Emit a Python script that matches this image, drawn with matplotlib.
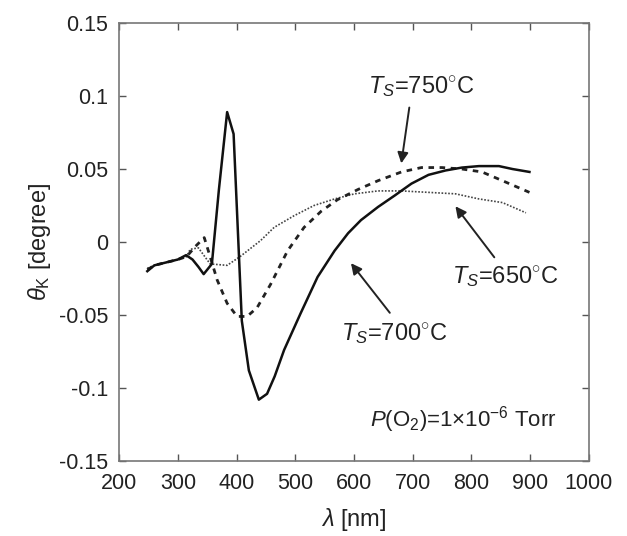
import matplotlib
matplotlib.use("Agg")
import matplotlib.pyplot as plt

plt.rcParams['font.family'] = ['Liberation Sans', 'DejaVu Sans']
plt.rcParams['mathtext.fontset'] = 'custom'
plt.rcParams['mathtext.rm'] = 'Liberation Sans'
plt.rcParams['mathtext.it'] = 'Liberation Sans:italic'

# 700 C (solid)
x700 = [248, 260, 280, 300, 314, 325, 335, 344, 358, 370, 384, 395, 409, 421, 438, 452, 465, 481,
        509, 538, 567, 590, 612, 641, 670, 698, 727, 756, 784, 813, 847, 870, 899]
y700 = [-0.020, -0.016, -0.014, -0.012, -0.009, -0.012, -0.017, -0.022, -0.015, 0.036, 0.089, 0.074,
        -0.054, -0.088, -0.108, -0.104, -0.092, -0.074, -0.049, -0.024, -0.006, 0.006, 0.015, 0.024,
        0.032, 0.040, 0.046, 0.049, 0.051, 0.052, 0.052, 0.050, 0.048]

# 750 C (dashed)
x750 = [248, 260, 280, 300, 315, 330, 345, 355, 367, 384, 401, 418, 435, 458, 487, 515, 544, 572,
        607, 641, 681, 715, 750, 784, 818, 853, 899]
y750 = [-0.019, -0.016, -0.014, -0.012, -0.010, -0.003, 0.003, -0.010, -0.026, -0.042, -0.051,
        -0.051, -0.045, -0.029, -0.006, 0.010, 0.021, 0.029, 0.036, 0.042, 0.048, 0.051, 0.051,
        0.050, 0.048, 0.042, 0.034]

# 650 C (dotted)
x650 = [248, 260, 280, 300, 315, 321, 335, 355, 384, 406, 441, 464, 498, 532, 567, 601, 641, 681,
        727, 773, 813, 853, 893]
y650 = [-0.018, -0.016, -0.014, -0.012, -0.010, -0.005, -0.004, -0.015, -0.016, -0.010, 0.001,
        0.010, 0.018, 0.025, 0.0295, 0.033, 0.035, 0.035, 0.034, 0.033, 0.0295, 0.027, 0.020]

xticks = [200, 300, 400, 500, 600, 700, 800, 900, 1000]
yticks = [-0.15, -0.1, -0.05, 0, 0.05, 0.1, 0.15]
ytick_labels = ['-0.15', '-0.1', '-0.05', '0', '0.05', '0.1', '0.15']

fig = plt.figure(figsize=(6.27, 5.36), dpi=100)
ax = fig.add_axes([0.190, 0.140, 0.749, 0.817])

ax.plot(x650, y650, color='#444444', lw=1.2, linestyle=(0, (1, 1)))
ax.plot(x750, y750, color='#222222', lw=2.0, linestyle=(0, (2, 2)))
ax.plot(x700, y700, color='#111111', lw=1.8, linestyle='-')

ax.set_xlim(200, 1000)
ax.set_ylim(-0.15, 0.15)
ax.set_xticks(xticks)
ax.set_yticks(yticks)
ax.set_yticklabels(ytick_labels)
ax.tick_params(direction='in', length=5, width=1, colors='#555555', labelcolor='#222222',
               labelsize=15.5, top=True, right=True)
ax.tick_params(axis='x', pad=9)
ax.tick_params(axis='y', pad=8)
for s in ax.spines.values():
    s.set_color('#777777')
    s.set_linewidth(1.2)

ax.set_xlabel(r'$\lambda$ [nm]', fontsize=17, color='#222222', labelpad=8)
ax.set_ylabel(r'$\theta_{\mathrm{K}}$ [degree]', fontsize=17, color='#222222', labelpad=4)

arrowprops = dict(arrowstyle='-|>', color='#222222', lw=1.4, mutation_scale=16)
ax.annotate('', xy=(680, 0.052), xytext=(695, 0.094), arrowprops=arrowprops)
ax.text(715, 0.1065, r'$T_S$=750$^{\circ}$C', fontsize=17, ha='center', va='center', color='#222222')

ax.annotate('', xy=(770, 0.026), xytext=(842, -0.012), arrowprops=arrowprops)
ax.text(858, -0.024, r'$T_S$=650$^{\circ}$C', fontsize=17, ha='center', va='center', color='#222222')

ax.annotate('', xy=(592, -0.013), xytext=(664, -0.050), arrowprops=arrowprops)
ax.text(668, -0.0625, r'$T_S$=700$^{\circ}$C', fontsize=17, ha='center', va='center', color='#222222')

ax.text(787, -0.1215, r'$P$(O$_2$)=1$\times$10$^{-6}$ Torr', fontsize=16, ha='center', va='center',
        color='#222222')

fig.savefig('out.png', dpi=100)
